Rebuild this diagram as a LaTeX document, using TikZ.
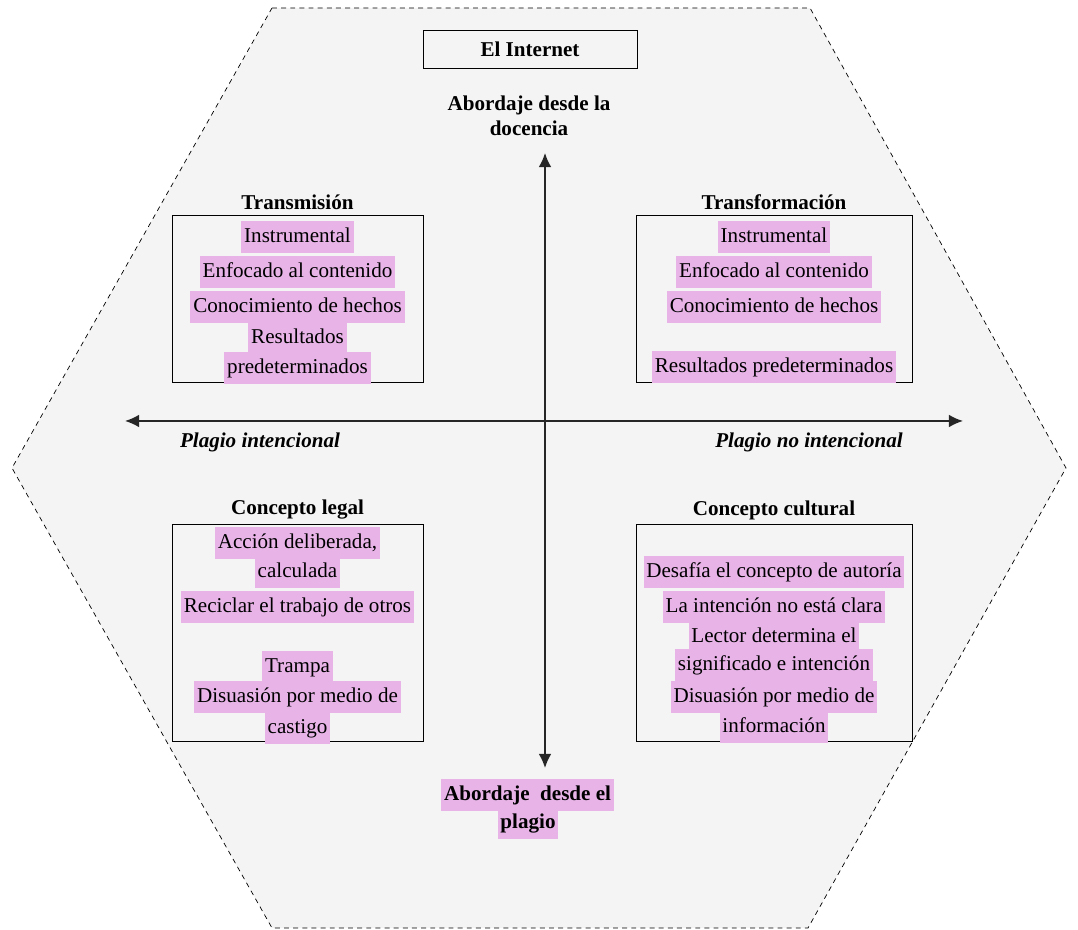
\documentclass[tikz,border=0pt]{standalone}
\usepackage{fontspec}
\setmainfont{Liberation Serif}
\usetikzlibrary{arrows.meta}

\definecolor{hexgray}{RGB}{244,244,244}
\definecolor{markpink}{RGB}{232,180,232}

\tikzset{
  item/.style={fill=markpink, inner xsep=2pt, inner ysep=3.5pt,
    text height=11.5pt, text depth=4pt, font=\fontsize{15}{18}\selectfont},
  heading/.style={font=\fontsize{15}{18}\selectfont\bfseries},
  quadbox/.style={draw, line width=0.6pt, inner sep=0pt},
  axislabel/.style={font=\fontsize{15}{18}\selectfont\bfseries\itshape},
  axisline/.style={{Latex[length=10pt,width=9pt]}-{Latex[length=10pt,width=9pt]}, line width=1.1pt, black!85}
}

\begin{document}
\begin{tikzpicture}
\useasboundingbox (0,0) rectangle (26.95,23.25);

% hexagon
\draw[fill=hexgray, line width=0.5pt, dash pattern=on 3.5pt off 3pt]
  (6.8,23.05) -- (20.25,23.05) -- (26.65,11.55) -- (20.2,0.05)
  -- (6.8,0.05) -- (0.3,11.55) -- cycle;

\node[quadbox, minimum width=5.35cm, minimum height=0.95cm, heading] (inet) at (13.25,22.025) {El Internet};
\node[heading, align=center] (docen) at (13.225,20.36) {Abordaje desde la\\docencia};

% axes
\coordinate (up) at (13.625,19.425);
\coordinate (down) at (13.625,4.05);
\coordinate (west) at (3.125,12.725);
\coordinate (east) at (24.075,12.725);
\draw[axisline] (west) -- (east);
\draw[axisline] (up) -- (down);

\node[axislabel] (intenc) at (6.5,12.2) {Plagio intencional};
\node[axislabel] (nointenc) at (20.225,12.2) {Plagio no intencional};

% quadrant boxes
\node[quadbox, minimum width=6.275cm, minimum height=4.175cm] (trans) at (7.4375,15.7875) {};
\node[quadbox, minimum width=6.9cm, minimum height=4.175cm] (transf) at (19.35,15.7875) {};
\node[quadbox, minimum width=6.275cm, minimum height=5.425cm] (legal) at (7.4375,7.4375) {};
\node[quadbox, minimum width=6.9cm, minimum height=5.425cm] (cultural) at (19.35,7.4375) {};

\node[heading] (transT) at (7.4375,18.2) {Transmisión};
\node[heading] (transfT) at (19.35,18.2) {Transformación};
\node[heading] (legalT) at (7.4375,10.5) {Concepto legal};
\node[heading] (culturalT) at (19.35,10.5) {Concepto cultural};

% Transmision
\node[item] (tr1) at (7.4375,17.325) {Instrumental};
\node[item] (tr2) at (7.4375,16.45) {Enfocado al contenido};
\node[item] (tr3) at (7.4375,15.575) {Conocimiento de hechos};
\node[item] (tr4) at (7.4375,14.8) {Resultados};
\node[item] (tr5) at (7.4375,14.05) {predeterminados};

% Transformacion
\node[item] (tf1) at (19.35,17.325) {Instrumental};
\node[item] (tf2) at (19.35,16.45) {Enfocado al contenido};
\node[item] (tf3) at (19.35,15.575) {Conocimiento de hechos};
\node[item] (tf4) at (19.35,14.075) {Resultados predeterminados};

% Concepto legal
\node[item] (lg1) at (7.4375,9.675) {Acción deliberada,};
\node[item] (lg2) at (7.4375,8.95) {calculada};
\node[item] (lg3) at (7.4375,8.075) {Reciclar el trabajo de otros};
\node[item] (lg4) at (7.4375,6.575) {Trampa};
\node[item] (lg5) at (7.4375,5.825) {Disuasión por medio de};
\node[item] (lg6) at (7.4375,5.05) {castigo};

% Concepto cultural
\node[item] (cu1) at (19.35,8.95) {Desafía el concepto de autoría};
\node[item] (cu2) at (19.35,8.075) {La intención no está clara};
\node[item] (cu3) at (19.35,7.325) {Lector determina el};
\node[item] (cu4) at (19.35,6.625) {significado e intención};
\node[item] (cu5) at (19.35,5.825) {Disuasión por medio de};
\node[item] (cu6) at (19.35,5.075) {información};

\node[item, font=\fontsize{15}{18}\selectfont\bfseries] (plag1) at (13.19,3.375) {Abordaje\ \ desde el};
\node[item, font=\fontsize{15}{18}\selectfont\bfseries] (plag2) at (13.2,2.675) {plagio};
\end{tikzpicture}
\end{document}
